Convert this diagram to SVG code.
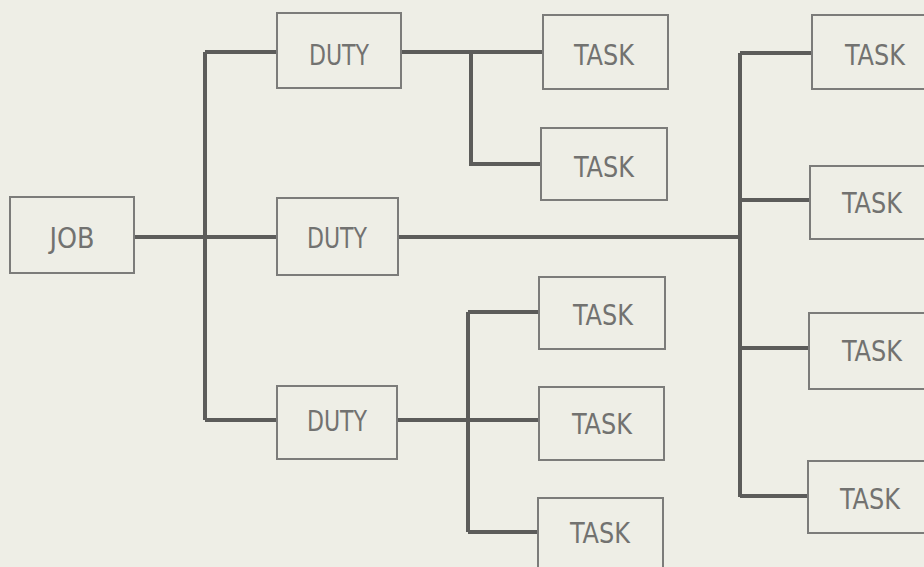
<svg xmlns="http://www.w3.org/2000/svg" width="924" height="567" viewBox="0 0 924 567">
<style>
.box{fill:none;stroke:#7c7c7a;stroke-width:2}
.lbl{font-family:"DejaVu Sans Condensed","DejaVu Sans",sans-serif;font-stretch:condensed;font-size:29px;fill:#727270;text-anchor:middle}
.c{fill:none;stroke:#5c5c5a;stroke-width:4;stroke-linejoin:miter}
</style>
<rect width="924" height="567" fill="#eeeee6"/>
<g id="connectors">
<path class="c" d="M134 237H277"/>
<path class="c" d="M205 52V420"/>
<path class="c" d="M205 52H277M205 420H277"/>
<path class="c" d="M401 52H543M471 52V164H541"/>
<path class="c" d="M398 237H740"/>
<path class="c" d="M740 53V497"/>
<path class="c" d="M740 53H812M740 200H810M740 348H809M740 496H808"/>
<path class="c" d="M397 420H539"/>
<path class="c" d="M468 312V532"/>
<path class="c" d="M468 312H539M468 532H539"/>
</g>
<g id="job"><rect class="box" x="10" y="197" width="124" height="76"/><text class="lbl" x="72" y="248" textLength="45" lengthAdjust="spacingAndGlyphs">JOB</text></g>
<g id="duty1"><rect class="box" x="277" y="13" width="124" height="75"/><text class="lbl" x="339" y="65" textLength="60" lengthAdjust="spacingAndGlyphs">DUTY</text></g>
<g id="duty2"><rect class="box" x="277" y="198" width="121" height="77"/><text class="lbl" x="337" y="248" textLength="60" lengthAdjust="spacingAndGlyphs">DUTY</text></g>
<g id="duty3"><rect class="box" x="277" y="386" width="120" height="73"/><text class="lbl" x="337" y="431" textLength="60" lengthAdjust="spacingAndGlyphs">DUTY</text></g>
<g id="task1"><rect class="box" x="543" y="15" width="125" height="74"/><text class="lbl" x="604" y="65" textLength="60" lengthAdjust="spacingAndGlyphs">TASK</text></g>
<g id="task2"><rect class="box" x="541" y="128" width="126" height="72"/><text class="lbl" x="604" y="177" textLength="60" lengthAdjust="spacingAndGlyphs">TASK</text></g>
<g id="task3"><rect class="box" x="539" y="277" width="126" height="72"/><text class="lbl" x="603" y="325" textLength="60" lengthAdjust="spacingAndGlyphs">TASK</text></g>
<g id="task4"><rect class="box" x="539" y="387" width="125" height="73"/><text class="lbl" x="602" y="434" textLength="60" lengthAdjust="spacingAndGlyphs">TASK</text></g>
<g id="task5"><rect class="box" x="538" y="498" width="125" height="74"/><text class="lbl" x="600" y="543" textLength="60" lengthAdjust="spacingAndGlyphs">TASK</text></g>
<g id="task6"><rect class="box" x="812" y="15" width="125" height="74"/><text class="lbl" x="875" y="65" textLength="60" lengthAdjust="spacingAndGlyphs">TASK</text></g>
<g id="task7"><rect class="box" x="810" y="166" width="125" height="73"/><text class="lbl" x="872" y="213" textLength="60" lengthAdjust="spacingAndGlyphs">TASK</text></g>
<g id="task8"><rect class="box" x="809" y="313" width="125" height="76"/><text class="lbl" x="872" y="361" textLength="60" lengthAdjust="spacingAndGlyphs">TASK</text></g>
<g id="task9"><rect class="box" x="808" y="461" width="125" height="72"/><text class="lbl" x="870" y="509" textLength="60" lengthAdjust="spacingAndGlyphs">TASK</text></g>
</svg>
